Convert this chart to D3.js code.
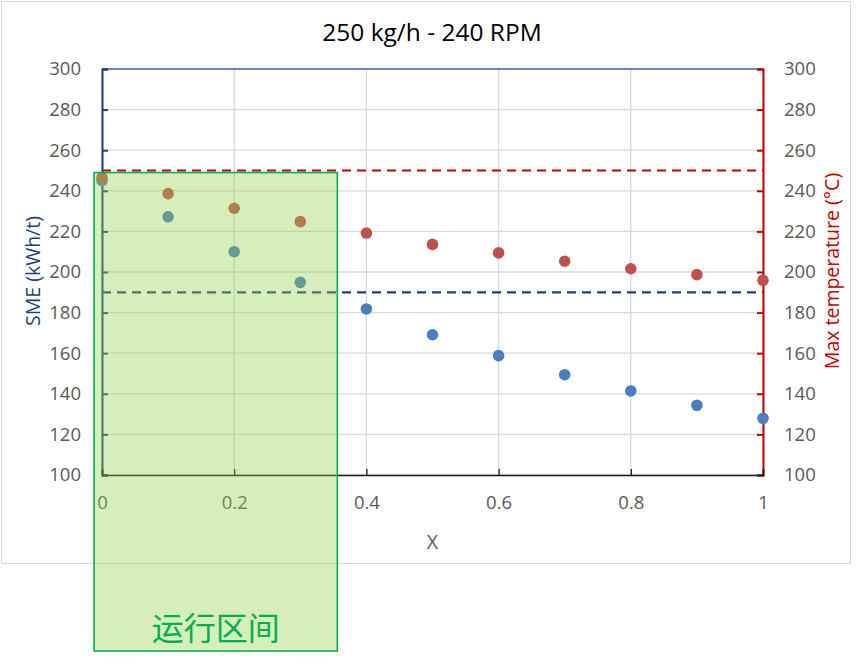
<!DOCTYPE html>
<html>
<head>
<meta charset="utf-8">
<script src="https://cdn.jsdelivr.net/npm/d3@7"></script>
<style>
  body { margin: 0; background: #fff; }
  svg { font-family: "Open Sans", "Noto Sans", sans-serif; }
</style>
</head>
<body>
<svg id="chart" width="865" height="666"></svg>
<script>
// data
var xValues   = [0, 0.1, 0.2, 0.3, 0.4, 0.5, 0.6, 0.7, 0.8, 0.9, 1];
var smeValues = [245, 227.2, 210, 194.9, 181.8, 169.1, 158.8, 149.4, 141.4, 134.3, 127.9];
var tempValues = [246.5, 238.6, 231.4, 224.8, 219.2, 213.6, 209.4, 205.3, 201.6, 198.7, 195.9];
var xTicks = [0, 0.2, 0.4, 0.6, 0.8, 1];
var yTicks = [100, 120, 140, 160, 180, 200, 220, 240, 260, 280, 300];
var smeLimit = 190;
var tempLimit = 250;
var zoneX = [-0.012, 0.356];      // operating range in X units
var zoneY = [249, 100];           // top in y units, box runs off below the plot

var svg = d3.select('#chart');

var margin = { left: 102, right: 763, top: 69, bottom: 475 };
var tickFont = 18.5;

/**
 * Scales
 */
var x = d3.scaleLinear().domain([0, 1]).range([margin.left, margin.right]);
var yLeft = d3.scaleLinear().domain([100, 300]).range([margin.bottom, margin.top]);
var yRight = d3.scaleLinear().domain([100, 300]).range([margin.bottom, margin.top]);

// chart frame
svg.append('rect')
  .attr('x', 1.5).attr('y', 1.5)
  .attr('width', 849).attr('height', 562)
  .attr('fill', '#fff')
  .attr('stroke', '#d9d9d9');

// title
svg.append('text')
  .attr('x', 432).attr('y', 41)
  .attr('text-anchor', 'middle')
  .attr('font-size', 24.5)
  .attr('fill', '#000')
  .text('250 kg/h - 240 RPM');

// gridlines
svg.append('g')
  .selectAll('line.hgrid')
  .data(yTicks)
  .enter()
  .append('line')
  .attr('x1', margin.left).attr('x2', margin.right)
  .attr('y1', function (d) { return yLeft(d); })
  .attr('y2', function (d) { return yLeft(d); })
  .attr('stroke', '#d9d9d9')
  .attr('stroke-width', 1.3);

svg.append('g')
  .selectAll('line.vgrid')
  .data(xTicks)
  .enter()
  .append('line')
  .attr('x1', function (d) { return x(d); })
  .attr('x2', function (d) { return x(d); })
  .attr('y1', margin.top).attr('y2', margin.bottom)
  .attr('stroke', '#d9d9d9')
  .attr('stroke-width', 1.3);

// top border line
svg.append('line')
  .attr('x1', margin.left).attr('x2', margin.right)
  .attr('y1', margin.top).attr('y2', margin.top)
  .attr('stroke', '#44679c')
  .attr('stroke-width', 1.5);

// limit lines
svg.append('line')
  .attr('x1', margin.left).attr('x2', margin.right)
  .attr('y1', yRight(tempLimit)).attr('y2', yRight(tempLimit))
  .attr('stroke', '#c00000')
  .attr('stroke-width', 2.2)
  .attr('stroke-dasharray', '9,6');

svg.append('line')
  .attr('x1', margin.left).attr('x2', margin.right)
  .attr('y1', yLeft(smeLimit)).attr('y2', yLeft(smeLimit))
  .attr('stroke', '#1f3f77')
  .attr('stroke-width', 2.2)
  .attr('stroke-dasharray', '9,6');

/**
 * Axes
 */
var leftAxis = svg.append('g')
  .attr('transform', 'translate(' + margin.left + ',0)')
  .call(d3.axisLeft(yLeft).tickValues(yTicks).tickSize(-6).tickPadding(21));
leftAxis.select('.domain').attr('stroke', '#1f3f77').attr('stroke-width', 2);
leftAxis.selectAll('.tick line').attr('stroke', '#1f3f77').attr('stroke-width', 2);
leftAxis.selectAll('text').attr('font-size', tickFont).attr('fill', '#595959')
  .attr('font-family', '"Open Sans", "Noto Sans", sans-serif');

var rightAxis = svg.append('g')
  .attr('transform', 'translate(' + margin.right + ',0)')
  .call(d3.axisRight(yRight).tickValues(yTicks).tickSize(-6).tickPadding(21));
rightAxis.select('.domain').attr('stroke', '#c00000').attr('stroke-width', 2);
rightAxis.selectAll('.tick line').attr('stroke', '#c00000').attr('stroke-width', 2);
rightAxis.selectAll('text').attr('font-size', tickFont).attr('fill', '#595959')
  .attr('font-family', '"Open Sans", "Noto Sans", sans-serif');

var bottomAxis = svg.append('g')
  .attr('transform', 'translate(0,' + margin.bottom + ')')
  .call(d3.axisBottom(x).tickValues(xTicks).tickSize(-6).tickPadding(21)
    .tickFormat(function (d) { return d3.format('')(d); }));
bottomAxis.select('.domain').attr('stroke', '#1a1a1a').attr('stroke-width', 1.6);
bottomAxis.selectAll('.tick line').attr('stroke', '#1a1a1a').attr('stroke-width', 1.3);
bottomAxis.selectAll('text').attr('font-size', tickFont).attr('fill', '#595959')
  .attr('font-family', '"Open Sans", "Noto Sans", sans-serif');

// axis titles
svg.append('text')
  .attr('transform', 'translate(40,' + 271 + ') rotate(-90)')
  .attr('text-anchor', 'middle')
  .attr('font-size', 19.5)
  .attr('fill', '#1f3f77')
  .text('SME (kWh/t)');

svg.append('text')
  .attr('transform', 'translate(839,' + 271 + ') rotate(-90)')
  .attr('text-anchor', 'middle')
  .attr('font-size', 19.5)
  .attr('fill', '#c00000')
  .text('Max temperature (°C)');

svg.append('text')
  .attr('x', x(0.5)).attr('y', 549)
  .attr('text-anchor', 'middle')
  .attr('font-size', 19.5)
  .attr('fill', '#595959')
  .text('X');

/**
 * Points
 */
var pts = xValues.map(function (v, i) {
  return { x: v, sme: smeValues[i], temp: tempValues[i] };
});

svg.append('g')
  .selectAll('circle.sme')
  .data(pts)
  .enter()
  .append('circle')
  .attr('cx', function (d) { return x(d.x); })
  .attr('cy', function (d) { return yLeft(d.sme); })
  .attr('r', 5.8)
  .attr('fill', '#4a7ebf');

svg.append('g')
  .selectAll('circle.temp')
  .data(pts)
  .enter()
  .append('circle')
  .attr('cx', function (d) { return x(d.x); })
  .attr('cy', function (d) { return yRight(d.temp); })
  .attr('r', 5.8)
  .attr('fill', '#c0504d');

// operating range box
var zoneTop = yLeft(zoneY[0]);
svg.append('rect')
  .attr('x', x(zoneX[0]))
  .attr('y', zoneTop)
  .attr('width', x(zoneX[1]) - x(zoneX[0]))
  .attr('height', 651 - zoneTop)
  .attr('fill', 'rgb(146, 208, 80)')
  .attr('fill-opacity', 0.38)
  .attr('stroke', '#00b050')
  .attr('stroke-width', 1.6);

svg.append('text')
  .attr('x', (x(zoneX[0]) + x(zoneX[1])) / 2)
  .attr('y', 640)
  .attr('text-anchor', 'middle')
  .attr('font-size', 32)
  .attr('fill', '#00b050')
  .attr('font-family', '"Noto Sans CJK SC", sans-serif')
  .text('运行区间');
</script>
</body>
</html>
